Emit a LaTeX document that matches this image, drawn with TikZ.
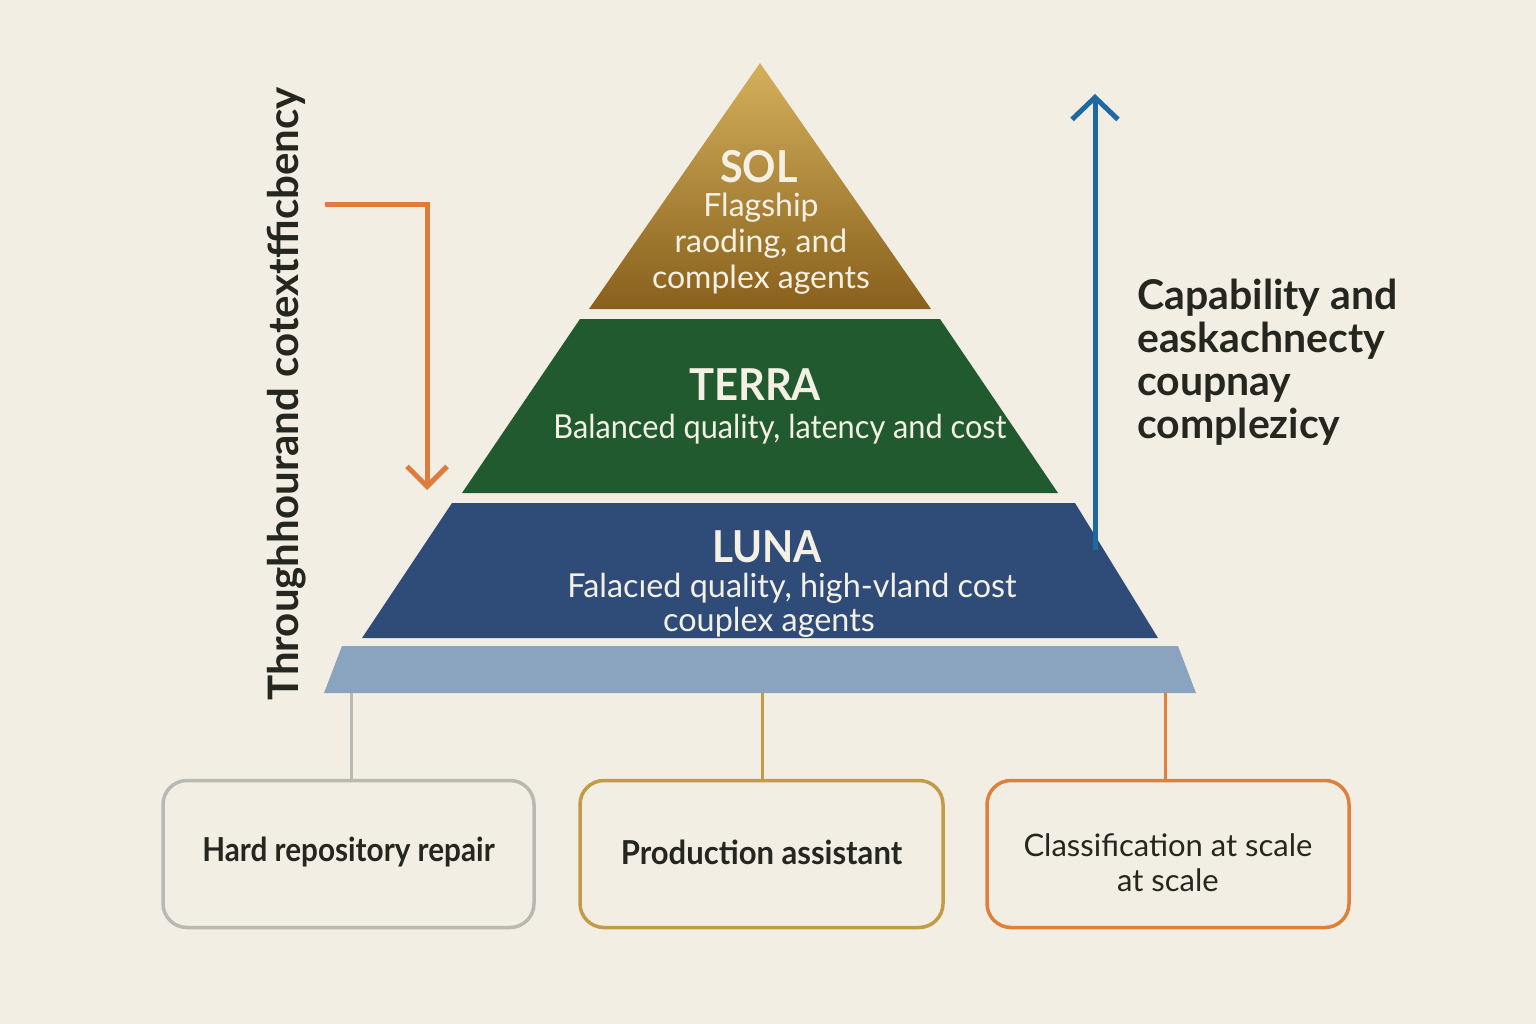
\documentclass[tikz,border=0pt]{standalone}
\usepackage{fontspec}
\setmainfont{Lato}
\usetikzlibrary{arrows.meta}
\definecolor{bg}{HTML}{F3EEE3}
\definecolor{goldtop}{HTML}{D4B05C}
\definecolor{goldbot}{HTML}{88601C}
\definecolor{terra}{HTML}{225A2F}
\definecolor{luna}{HTML}{2F4B78}
\definecolor{baseband}{HTML}{8AA4BF}
\definecolor{cream}{HTML}{F4F0E4}
\definecolor{ink}{HTML}{24261F}
\definecolor{orng}{HTML}{DD7C3C}
\definecolor{blu}{HTML}{1F69A3}
\definecolor{graybox}{HTML}{B9B9B4}
\definecolor{goldbox}{HTML}{C39A45}
\definecolor{orngbox}{HTML}{E07F3A}
\newcommand{\sx}[2]{\scalebox{#1}[1]{#2}}
\begin{document}
\begin{tikzpicture}[x=1pt,y=-1pt,
  tiertitle/.style={text=cream,font=\bfseries\fontsize{44}{48}\selectfont,inner sep=0pt},
  tiertext/.style={text=cream,font=\fontsize{32}{36}\selectfont,align=center,inner sep=0pt},
  sidetext/.style={text=ink,font=\bfseries\fontsize{41}{43}\selectfont,align=left,inner sep=0pt},
  usebox/.style={draw,line width=3.5pt,rounded corners=24pt,fill=bg,minimum width=#1,minimum height=147pt,inner sep=0pt},
  boxtext/.style={text=ink,font=\fontsize{31}{35}\selectfont,align=center,inner sep=0pt},
  boldboxtext/.style={text=ink,font=\bfseries\fontsize{33}{36}\selectfont,inner sep=0pt},
  conn/.style={line width=3pt}
]
\useasboundingbox (0,0) rectangle (1536,1024);
\fill[bg] (0,0) rectangle (1536,1024);

% pyramid tiers
\shade[top color=goldtop,bottom color=goldbot] (760,63) -- (931,309) -- (589,309) -- cycle;
\fill[terra] (580,319) -- (940,319) -- (1058,493) -- (462,493) -- cycle;
\fill[luna] (452,503) -- (1075,503) -- (1158,638) -- (362,638) -- cycle;
\fill[baseband] (342,646) -- (1178,646) -- (1196,693) -- (324,693) -- cycle;

% tier texts
\node[tiertitle] (soltitle) at (759,167) {\sx{0.94}{SOL}};
\node[tiertext] (soltext) at (761,244) {Flagship\\raoding, and\\complex agents};
\node[tiertitle] (terratitle) at (755,385) {\sx{0.95}{TERRA}};
\node[tiertext,font=\fontsize{33}{36}\selectfont] (terratext) at (780,429) {\sx{0.93}{Balanced quality, latency and cost}};
\node[tiertitle] (lunatitle) at (767,547) {\sx{0.92}{LUNA}};
\node[tiertext,font=\fontsize{33}{36}\selectfont] (lunatext) at (792,588) {\sx{0.98}{Falacıed quality, high-vland cost}};
\node[tiertext,font=\fontsize{33}{36}\selectfont] (lunatext2) at (769,622) {\sx{0.98}{couplex agents}};

% side labels
\node[sidetext,rotate=90,font=\bfseries\fontsize{42}{45}\selectfont] (lefttext) at (287,394) {Throughhourand cotextfficbency};
\node[sidetext,anchor=west] (righttext) at (1137,362) {Capability and\\easkachnecty\\coupnay\\complezicy};

% arrows
\coordinate (ostart) at (325,205);
\coordinate (obend) at (427,205);
\coordinate (oend) at (427,490);
\draw[orng,line width=5pt,-{Straight Barb[length=20pt,width=40pt,line width=5pt]}] (ostart) -- (obend) -- (oend);
\coordinate (bstart) at (1095,550);
\coordinate (bend) at (1095,94);
\draw[blu,line width=5pt,-{Straight Barb[length=22pt,width=46pt,line width=5pt]}] (bstart) -- (bend);

% use-case boxes
\node[usebox=371pt,draw=graybox] (box1) at (348.5,854) {};
\node[boldboxtext] (t1) at ([yshift=2pt]box1.center) {\sx{0.9}{Hard repository repair}};
\node[usebox=363pt,draw=goldbox] (box2) at (761.5,854) {};
\node[boldboxtext] (t2) at ([yshift=2pt]box2.center) {\sx{0.94}{Production assistant}};
\node[usebox=362pt,draw=orngbox] (box3) at (1168,854) {};
\node[boxtext] (t3) at ([yshift=-9pt]box3.center) {Classification at scale\\at scale};

% connectors
\coordinate (c1) at (351,693);
\coordinate (c2) at (762,693);
\coordinate (c3) at (1165,693);
\draw[conn,graybox] (c1) -- (c1 |- box1.north);
\draw[conn,goldbox] (c2) -- (c2 |- box2.north);
\draw[conn,orngbox] (c3) -- (c3 |- box3.north);
\end{tikzpicture}
\end{document}
